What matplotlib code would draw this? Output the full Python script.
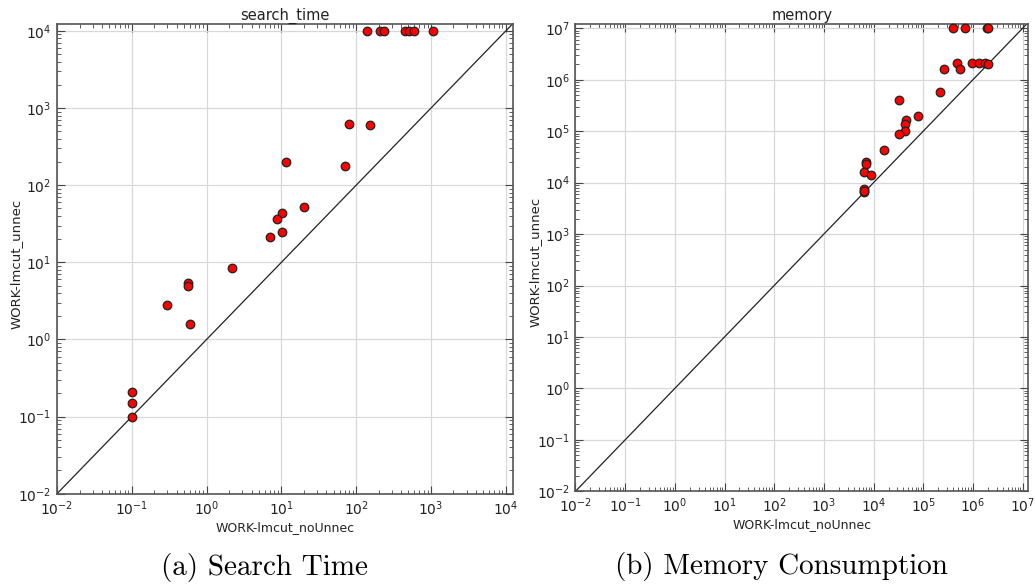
import matplotlib
matplotlib.use("Agg")
import matplotlib.pyplot as plt
from matplotlib.ticker import LogLocator

# search_time: WORK-lmcut_noUnnec (x) vs WORK-lmcut_unnec (y)
time_x = [138, 208, 234, 447, 513, 589, 1070,
          80, 153, 11.5, 70, 20, 10.1, 8.7, 10.1, 7.0, 2.2,
          0.57, 0.57, 0.30, 0.605, 0.1, 0.1, 0.1]
time_y = [1e4, 1e4, 1e4, 1e4, 1e4, 1e4, 1e4,
          618, 605, 202, 180, 52, 43, 36.5, 24.8, 21.1, 8.5,
          5.4, 4.9, 2.83, 1.59, 0.208, 0.149, 0.1]

# memory
mem_x = [3.9e5, 6.8e5, 1.94e6, 1.97e6,
         4.7e5, 2.65e5, 5.47e5, 9.4e5, 1.34e6, 1.74e6, 2.03e6,
         2.17e5, 3.24e4, 7.7e4, 4.55e4, 4.2e4, 4.3e4, 3.24e4, 1.64e4,
         7.1e3, 7.2e3, 6.3e3, 8.9e3, 6.5e3, 6.3e3, 6.4e3]
mem_y = [1e7, 1e7, 1e7, 1e7,
         2.12e6, 1.64e6, 1.6e6, 2.12e6, 2.1e6, 2.1e6, 2.06e6,
         5.9e5, 4.0e5, 1.98e5, 1.67e5, 1.38e5, 1.0e5, 8.8e4, 4.3e4,
         2.55e4, 2.33e4, 1.6e4, 1.38e4, 7.5e3, 6.6e3, 6.8e3]

plt.rcParams['font.family'] = ['DejaVu Sans']
plt.rcParams['mathtext.default'] = 'regular'
plt.rcParams['axes.unicode_minus'] = False

fig = plt.figure(figsize=(10.35, 5.86), dpi=100)
ax1 = fig.add_axes([0.0551, 0.1575, 0.4403, 0.8015])
ax2 = fig.add_axes([0.556, 0.1616, 0.4375, 0.7974])


def style(ax, xs, ys, title, xmax, ymax):
    ax.set_xscale('log')
    ax.set_yscale('log')
    ax.set_xlim(1e-2, xmax)
    ax.set_ylim(1e-2, ymax)
    ax.xaxis.set_major_locator(LogLocator(base=10, numticks=20))
    ax.yaxis.set_major_locator(LogLocator(base=10, numticks=20))
    ax.plot([1e-2, 1e8], [1e-2, 1e8], color='#222222', lw=0.9, zorder=2)
    ax.scatter(xs, ys, s=38, c='red', edgecolors='#222222', linewidths=0.9, zorder=3, clip_on=False)
    ax.grid(True, which='major', color='#d8d8d8', lw=0.9)
    ax.set_axisbelow(True)
    ax.tick_params(which='both', direction='in', top=True, right=True, labelsize=10,
                   color='#444444', labelcolor='#222222')
    ax.tick_params(which='major', length=6, pad=4)
    ax.tick_params(which='minor', length=3)
    for sp in ax.spines.values():
        sp.set_color('#555555')
        sp.set_linewidth(1.2)
    ax.set_title(title, fontsize=10.5, pad=3, color='#222222')
    ax.set_xlabel('WORK-lmcut_noUnnec', fontsize=9, labelpad=2, color='#222222')
    ax.set_ylabel('WORK-lmcut_unnec', fontsize=9.5, color='#222222')


style(ax1, time_x, time_y, 'search_time', 1.24e4, 1.23e4)
style(ax2, mem_x, mem_y, 'memory', 1.3e7, 1.21e7)
ax1.yaxis.set_label_coords(-0.075, 0.49)
ax2.yaxis.set_label_coords(-0.075, 0.49)

fig.text(0.256, 0.031, '(a) Search Time', fontsize=21, family='cmr10', ha='center', va='center')
fig.text(0.755, 0.034, '(b) Memory Consumption', fontsize=21, family='cmr10', ha='center', va='center')

fig.savefig('out.png', dpi=100)
